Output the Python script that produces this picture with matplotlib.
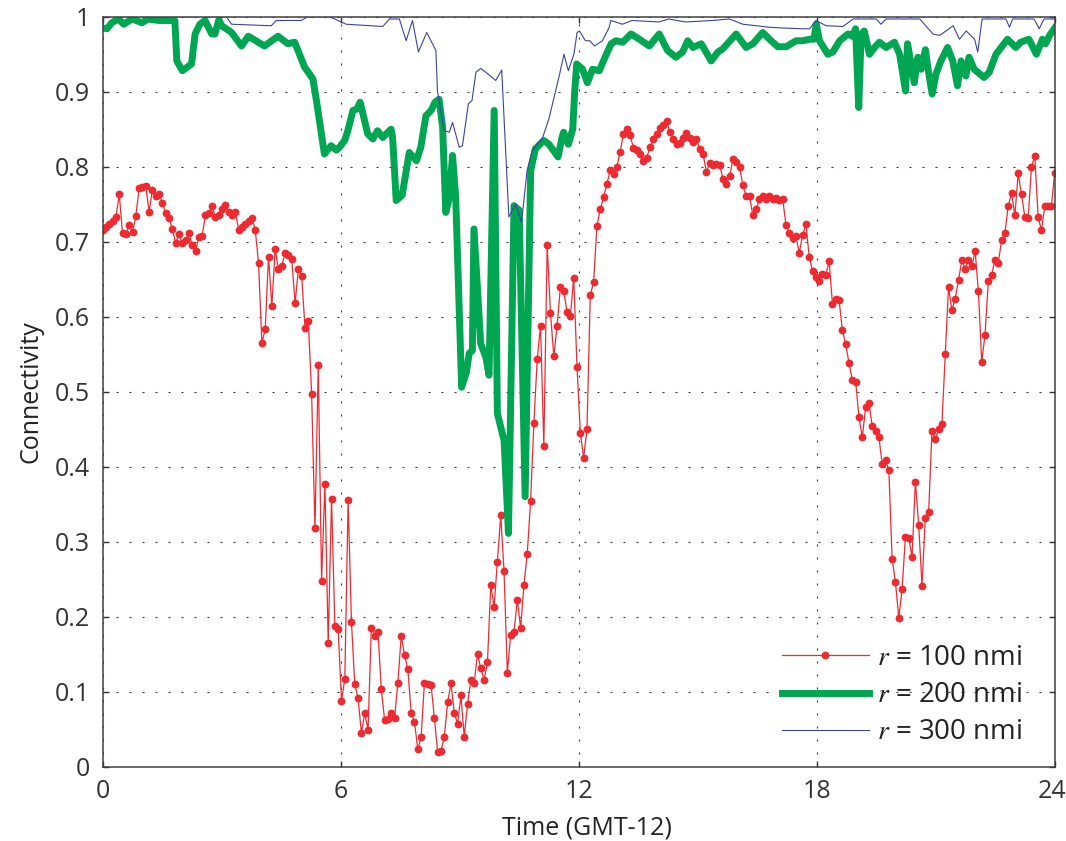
import numpy as np
import matplotlib
matplotlib.use("Agg")
import matplotlib.pyplot as plt
from matplotlib.transforms import ScaledTranslation

plt.rcParams['font.family'] = ['Open Sans', 'DejaVu Sans']
plt.rcParams['mathtext.fontset'] = 'stix'

# r = 100 nmi, sampled every 5 minutes over 24 h
conn_100 = [
    0.716, 0.719, 0.723, 0.727, 0.733, 0.763, 0.711, 0.710, 0.722, 0.713, 0.734,
    0.771, 0.773, 0.774, 0.740, 0.769, 0.761, 0.764, 0.751, 0.738, 0.732, 0.717, 0.698,
    0.710, 0.698, 0.702, 0.711, 0.695, 0.688, 0.706, 0.708, 0.736, 0.738, 0.747, 0.733,
    0.735, 0.743, 0.749, 0.739, 0.736, 0.740, 0.716, 0.719, 0.724, 0.727, 0.732, 0.716,
    0.671, 0.565, 0.583, 0.680, 0.614, 0.690, 0.663, 0.668, 0.685, 0.682, 0.677, 0.618,
    0.663, 0.654, 0.585, 0.594, 0.497, 0.318, 0.535, 0.248, 0.377, 0.165, 0.357, 0.187,
    0.183, 0.088, 0.117, 0.355, 0.193, 0.110, 0.091, 0.045, 0.071, 0.049, 0.185, 0.174,
    0.180, 0.103, 0.062, 0.063, 0.072, 0.065, 0.112, 0.174, 0.149, 0.130, 0.072, 0.060,
    0.023, 0.039, 0.112, 0.110, 0.109, 0.065, 0.019, 0.021, 0.040, 0.086, 0.111, 0.072,
    0.057, 0.095, 0.040, 0.083, 0.116, 0.112, 0.150, 0.131, 0.116, 0.139, 0.242, 0.213,
    0.273, 0.335, 0.261, 0.125, 0.176, 0.180, 0.222, 0.185, 0.242, 0.284, 0.354, 0.458,
    0.543, 0.588, 0.428, 0.695, 0.605, 0.547, 0.588, 0.640, 0.634, 0.606, 0.601, 0.652,
    0.533, 0.445, 0.412, 0.450, 0.629, 0.646, 0.721, 0.743, 0.759, 0.777, 0.795, 0.790,
    0.800, 0.820, 0.844, 0.850, 0.842, 0.825, 0.822, 0.817, 0.808, 0.812, 0.826, 0.837,
    0.843, 0.851, 0.856, 0.861, 0.846, 0.837, 0.830, 0.831, 0.838, 0.845, 0.838, 0.833,
    0.837, 0.823, 0.817, 0.793, 0.805, 0.802, 0.803, 0.802, 0.784, 0.777, 0.787, 0.810,
    0.806, 0.800, 0.775, 0.761, 0.761, 0.735, 0.743, 0.757, 0.761, 0.757, 0.761, 0.757,
    0.758, 0.755, 0.757, 0.722, 0.711, 0.705, 0.707, 0.685, 0.709, 0.723, 0.680, 0.661,
    0.653, 0.648, 0.657, 0.656, 0.674, 0.617, 0.624, 0.622, 0.582, 0.563, 0.538, 0.515,
    0.513, 0.466, 0.439, 0.479, 0.485, 0.454, 0.448, 0.440, 0.403, 0.409, 0.395, 0.277,
    0.246, 0.198, 0.237, 0.306, 0.305, 0.280, 0.380, 0.322, 0.241, 0.332, 0.339, 0.448,
    0.437, 0.450, 0.457, 0.550, 0.640, 0.609, 0.624, 0.649, 0.675, 0.664, 0.675, 0.667,
    0.688, 0.634, 0.540, 0.576, 0.648, 0.656, 0.676, 0.672, 0.702, 0.712, 0.748, 0.765,
    0.735, 0.791, 0.763, 0.733, 0.731, 0.800, 0.814, 0.733, 0.715, 0.747, 0.747, 0.747, 0.792,
]
t_100 = np.linspace(0, 24, len(conn_100))

# r = 200 nmi
t_200 = [0.0, 0.11, 0.23, 0.40, 0.53, 0.74, 0.99, 1.15, 1.41, 1.82, 1.87, 2.01, 2.24, 2.33,
         2.45, 2.58, 2.75, 2.83, 2.93, 3.0, 3.25, 3.50, 3.67, 3.92, 4.08, 4.42, 4.67, 4.84,
         5.09, 5.30, 5.39, 5.59, 5.76, 5.89, 5.97, 6.10, 6.18, 6.31, 6.41, 6.49, 6.56, 6.68,
         6.81, 6.93, 7.06, 7.27, 7.31, 7.40, 7.55, 7.73, 7.91, 8.02, 8.15, 8.28, 8.38, 8.48,
         8.57, 8.65, 8.74, 8.82, 8.90, 9.05, 9.17, 9.24, 9.32, 9.36, 9.53, 9.66, 9.74, 9.87,
         9.95, 10.12, 10.23, 10.37, 10.50, 10.65, 10.79, 10.91, 11.12, 11.25, 11.48, 11.58,
         11.62, 11.74, 11.85, 11.90, 11.95, 12.10, 12.22, 12.35, 12.52, 12.68, 12.82, 12.94,
         13.11, 13.32, 13.53, 13.78, 14.03, 14.24, 14.45, 14.62, 14.75, 14.88, 15.09, 15.34,
         15.51, 15.63, 15.97, 16.22, 16.39, 16.64, 16.85, 17.02, 17.23, 17.48, 17.65, 17.82,
         17.93, 17.99, 18.07, 18.28, 18.41, 18.58, 18.79, 18.90, 18.98, 19.06, 19.12, 19.20,
         19.33, 19.46, 19.58, 19.75, 19.96, 20.09, 20.24, 20.29, 20.38, 20.46, 20.55, 20.63,
         20.74, 20.80, 20.91, 21.01, 21.13, 21.30, 21.43, 21.55, 21.64, 21.76, 21.84, 21.97,
         22.22, 22.35, 22.52, 22.81, 23.02, 23.14, 23.35, 23.54, 23.69, 23.77, 23.87, 23.95, 24.0]
conn_200 = [0.985, 0.984, 0.992, 0.997, 0.990, 0.997, 0.992, 0.997, 0.995, 0.995, 0.941, 0.928,
            0.937, 0.977, 0.990, 0.995, 0.977, 0.977, 0.996, 0.988, 0.979, 0.961, 0.974, 0.966,
            0.961, 0.974, 0.964, 0.966, 0.933, 0.917, 0.888, 0.817, 0.828, 0.822, 0.826, 0.835,
            0.848, 0.875, 0.877, 0.886, 0.871, 0.844, 0.837, 0.848, 0.839, 0.850, 0.839, 0.755,
            0.762, 0.819, 0.808, 0.826, 0.868, 0.875, 0.886, 0.890, 0.853, 0.739, 0.759, 0.815,
            0.759, 0.506, 0.526, 0.551, 0.555, 0.717, 0.564, 0.546, 0.522, 0.875, 0.471, 0.435,
            0.311, 0.748, 0.742, 0.360, 0.795, 0.824, 0.835, 0.830, 0.813, 0.839, 0.846, 0.830,
            0.850, 0.901, 0.937, 0.930, 0.912, 0.930, 0.928, 0.948, 0.964, 0.968, 0.966, 0.977,
            0.970, 0.961, 0.977, 0.955, 0.946, 0.953, 0.968, 0.959, 0.964, 0.941, 0.953, 0.957,
            0.977, 0.959, 0.964, 0.979, 0.968, 0.960, 0.960, 0.968, 0.968, 0.970, 0.970, 0.990,
            0.968, 0.950, 0.953, 0.968, 0.977, 0.974, 0.984, 0.879, 0.977, 0.981, 0.950, 0.959,
            0.966, 0.959, 0.966, 0.950, 0.901, 0.964, 0.937, 0.912, 0.946, 0.930, 0.956, 0.933,
            0.897, 0.924, 0.941, 0.959, 0.941, 0.908, 0.941, 0.921, 0.946, 0.930, 0.919, 0.926,
            0.950, 0.970, 0.959, 0.966, 0.970, 0.950, 0.970, 0.964, 0.975, 0.981, 0.985]

# r = 300 nmi
t_300 = [0.0, 3.12, 3.25, 4.25, 4.38, 5.0, 5.17, 5.72, 5.85, 6.14, 7.06, 7.23, 7.48, 7.65,
         7.81, 7.96, 8.17, 8.40, 8.44, 8.61, 8.74, 8.82, 8.99, 9.07, 9.22, 9.31, 9.41, 9.53,
         9.66, 9.91, 10.06, 10.24, 10.41, 10.56, 10.70, 10.83, 11.08, 11.25, 11.50, 11.63,
         11.74, 11.88, 11.96, 12.02, 12.17, 12.28, 12.40, 12.60, 12.77, 12.81, 13.10, 13.35,
         14.02, 14.27, 14.70, 15.37, 15.80, 16.14, 16.81, 17.14, 17.65, 17.82, 17.98, 18.24,
         18.66, 18.92, 19.50, 19.62, 19.75, 20.60, 20.93, 21.10, 21.44, 21.60, 21.77, 21.98,
         22.06, 22.17, 22.77, 22.86, 22.94, 23.48, 23.61, 23.73, 24.0]
conn_300 = [1.0, 1.0, 0.990, 0.988, 0.995, 0.995, 1.0, 1.0, 0.997, 0.990, 0.987, 0.997, 0.997,
            0.968, 0.995, 0.953, 0.979, 0.955, 0.901, 0.848, 0.846, 0.859, 0.826, 0.828, 0.884,
            0.888, 0.926, 0.931, 0.926, 0.915, 0.929, 0.733, 0.750, 0.726, 0.795, 0.822, 0.837,
            0.864, 0.919, 0.950, 0.928, 0.950, 0.979, 0.981, 0.968, 0.968, 0.961, 0.968, 0.986,
            0.995, 0.990, 0.995, 0.993, 0.997, 0.993, 0.995, 0.997, 0.990, 0.986, 0.985, 0.984,
            0.984, 0.995, 0.988, 0.987, 0.997, 0.997, 0.990, 0.997, 0.997, 0.977, 0.975, 0.988,
            0.970, 0.981, 0.970, 0.953, 0.997, 0.997, 0.986, 0.997, 0.997, 0.984, 0.997, 0.997]

x_ticks = [0, 6, 12, 18, 24]
y_ticks = [0, 0.1, 0.2, 0.3, 0.4, 0.5, 0.6, 0.7, 0.8, 0.9, 1]
y_labels = ['0', '0.1', '0.2', '0.3', '0.4', '0.5', '0.6', '0.7', '0.8', '0.9', '1']

fig = plt.figure(figsize=(10.66, 8.41), dpi=100)
ax = fig.add_axes([0.0963, 0.0884, 0.8931, 0.8917])

ax.plot(t_100, conn_100, '-', color='#ee2a30', lw=0.9, marker='o', ms=4.6,
        mec='#ee2a30', mfc='#ee2a30', label=r'$r$ = 100 nmi')
ax.plot(t_200, conn_200, '-', color='#00a651', lw=5, solid_joinstyle='round',
        label=r'$r$ = 200 nmi')
ax.plot(t_300, conn_300, '-', color='#3b43a0', lw=0.8, label=r'$r$ = 300 nmi')

ax.set_xlim(0, 24)
ax.set_ylim(0, 1)
ax.set_xticks(x_ticks)
ax.set_yticks(y_ticks)
ax.set_yticklabels(y_labels)
ax.grid(True, color='#333333', lw=0.8, linestyle=(0, (1.8, 9.9)))
ax.set_axisbelow(True)
ax.tick_params(direction='in', length=4.5, width=1, top=True, right=True,
               labelsize=18, colors='#333333', pad=9)
for s in ax.spines.values():
    s.set_color('#404040')
    s.set_linewidth(1.1)

# nudge the last x tick label so it stays inside the figure
last = ax.xaxis.get_major_ticks()[-1].label1
last.set_transform(last.get_transform() + ScaledTranslation(-3 / 100, 0, fig.dpi_scale_trans))

ax.set_xlabel('Time (GMT-12)', fontsize=18, color='#222222', labelpad=8.5)
ax.xaxis.label.set_x(0.5084)
ax.set_ylabel('Connectivity', fontsize=18, color='#222222', labelpad=8)

leg = ax.legend(loc='lower left', bbox_to_anchor=(0.714, 0.027), frameon=False,
                fontsize=20, handlelength=3.1, handletextpad=0.3, labelspacing=0.33,
                borderpad=0, borderaxespad=0)
for txt in leg.get_texts():
    txt.set_color('#222222')

fig.savefig('out.png', dpi=100)
